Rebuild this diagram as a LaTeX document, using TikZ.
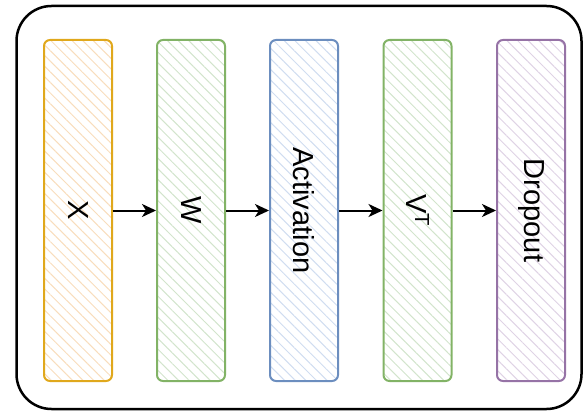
\documentclass[tikz,border=0pt]{standalone}
\usepackage{fontspec}
\setmainfont{Liberation Sans}
\usetikzlibrary{patterns.meta,arrows.meta}
\definecolor{orgD}{HTML}{E0A81C}\definecolor{orgL}{HTML}{F8DDBC}
\definecolor{grnD}{HTML}{82B366}\definecolor{grnL}{HTML}{D2E4CC}
\definecolor{bluD}{HTML}{6C8EBF}\definecolor{bluL}{HTML}{D0DDF0}
\definecolor{purD}{HTML}{9673A6}\definecolor{purL}{HTML}{DFD3E5}
\begin{document}
\begin{tikzpicture}[x=1pt,y=-1pt,
  layerbox/.style={draw=#1D, line width=2pt, rounded corners=6pt,
    minimum width=68pt, minimum height=341pt, inner sep=0pt,
    pattern={Lines[angle=-45,distance=7.5pt,line width=1pt]}, pattern color=#1L,
    font=\fontsize{29}{33}\selectfont},
  arr/.style={line width=2pt, -{Stealth[length=14pt,width=13pt,inset=4pt]}},
  frame/.style={draw=black, line width=2.5pt, rounded corners=35pt}]
\useasboundingbox (0,0) rectangle (585,414);
\node[frame, minimum width=565pt, minimum height=403pt] (outer) at (299,207.5) {};
\node[layerbox=org] (x) at (78,210.5) {\rotatebox{-90}{X}};
\node[layerbox=grn] (w) at (191,210.5) {\rotatebox{-90}{W}};
\node[layerbox=blu] (act) at (304,210.5) {\rotatebox{-90}{Activation}};
\node[layerbox=grn] (vt) at (417.5,210.5) {\rotatebox{-90}{V\textsuperscript{T}}};
\node[layerbox=pur] (drop) at (531,210.5) {\rotatebox{-90}{Dropout}};
\draw[arr] (x.east) -- (w.west);
\draw[arr] (w.east) -- (act.west);
\draw[arr] (act.east) -- (vt.west);
\draw[arr] (vt.east) -- (drop.west);
\end{tikzpicture}
\end{document}
